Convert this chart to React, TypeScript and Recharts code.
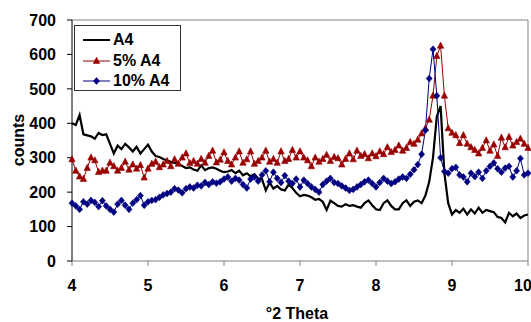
import { LineChart, Line, XAxis, YAxis, ReferenceLine } from 'recharts';

// °2 Theta sampled every 0.05
const theta = Array.from({ length: 121 }, (_, i) => +(4 + i * 0.05).toFixed(2));

const a4 = [
  400, 395, 424, 368, 365, 362, 355, 372, 366, 368,
  340, 312, 335, 325, 340, 330, 318, 332, 312, 325,
  338, 318, 305, 302, 296, 292, 288, 285, 282, 276,
  270, 272, 266, 262, 278, 264, 270, 272, 268, 262,
  258, 260, 264, 255, 262, 249, 255, 246, 252, 240,
  238, 205, 228, 210, 218, 208, 205, 222, 212, 198,
  188, 192, 190, 185, 178, 180, 172, 148, 175, 168,
  160, 158, 165, 160, 162, 158, 155, 168, 176, 162,
  150, 148, 168, 176, 160, 150, 150, 168, 176, 160,
  172, 176, 168, 190, 230, 300, 420, 450, 255, 168,
  135, 148, 140, 152, 135, 150, 138, 155, 140, 148,
  145, 142, 128, 125, 112, 140, 130, 138, 125, 132,
  135,
];

const pct5 = [
  295, 262, 245, 238, 270, 300, 292, 258, 262, 262,
  285, 275, 262, 270, 288, 265, 280, 268, 278, 242,
  268, 282, 288, 272, 280, 290, 275, 295, 282, 300,
  312, 284, 290, 282, 296, 285, 305, 320, 286, 294,
  315, 290, 280, 300, 318, 285, 295, 318, 282, 290,
  300, 320, 288, 296, 285, 318, 290, 296, 322, 300,
  318, 300, 292, 275, 300, 288, 296, 308, 290, 302,
  298, 280, 296, 312, 295, 320, 305, 310, 298, 312,
  304, 318, 310, 330, 316, 322, 335, 320, 328, 345,
  340, 352, 370, 385, 410, 480, 595, 625, 480, 385,
  372, 365, 342, 365, 340, 330, 322, 312, 328, 350,
  320, 338, 305, 358, 330, 360, 335, 345, 355, 340,
  328,
];

const pct10 = [
  168, 160, 150, 172, 165, 176, 170, 158, 175, 160,
  150, 142, 165, 176, 162, 150, 168, 178, 190, 162,
  172, 176, 178, 185, 192, 196, 200, 210, 206, 198,
  210, 215, 212, 220, 218, 228, 222, 230, 226, 230,
  238, 244, 232, 240, 235, 222, 212, 238, 244, 232,
  250, 262, 230, 258, 240, 228, 248, 232, 225, 238,
  215, 235, 225, 215, 208, 200, 222, 232, 240, 228,
  225, 218, 212, 205, 208, 215, 222, 230, 235, 225,
  215, 228, 240, 232, 225, 230, 238, 244, 240, 252,
  265, 280, 310, 380, 530, 615, 480, 300, 260, 255,
  268, 272, 250, 244, 230, 255, 245, 258, 240, 262,
  275, 285, 268, 258, 270, 275, 244, 262, 298, 250,
  255,
];

const xTicks = [4, 5, 6, 7, 8, 9, 10];
const yTicks = [0, 100, 200, 300, 400, 500, 600, 700];

const seriesNames = ['A4', '5% A4', '10% A4'];
const colors = ['#000000', '#990000', '#000080'];

const data = theta.map((t, i) => ({ t, a4: a4[i], p5: pct5[i], p10: pct10[i] }));

const font = '"Liberation Sans", Arial, sans-serif';

const Triangle = (props: any) => {
  const { cx, cy, fill } = props;
  if (cx == null || cy == null) return null;
  return <path d={`M${cx},${cy - 3.8} L${cx + 3.2},${cy + 2.4} L${cx - 3.2},${cy + 2.4} Z`} fill={fill} stroke={fill} strokeWidth={0.6} />;
};

const Diamond = (props: any) => {
  const { cx, cy, fill } = props;
  if (cx == null || cy == null) return null;
  return <path d={`M${cx},${cy - 3.4} L${cx + 3},${cy} L${cx},${cy + 3.4} L${cx - 3},${cy} Z`} fill={fill} stroke={fill} strokeWidth={0.6} />;
};

const LegendBox = () => (
  <div style={{ position: 'absolute', left: 74, top: 25, width: 105, height: 64, border: '1px solid #333', background: '#fff', fontFamily: font, fontWeight: 'bold', fontSize: 16 }}>
    {seriesNames.map((name, i) => (
      <div key={name} style={{ position: 'absolute', left: 8, top: 4 + i * 20.5, height: 20, display: 'flex', alignItems: 'center' }}>
        <svg width={28} height={20}>
          <line x1={0} y1={10} x2={27} y2={10} stroke={colors[i]} strokeWidth={i === 0 ? 2 : 1} />
          {i === 1 && <Triangle cx={13.5} cy={10} fill={colors[i]} />}
          {i === 2 && <Diamond cx={13.5} cy={10} fill={colors[i]} />}
        </svg>
        <span style={{ marginLeft: 2 }}>{name}</span>
      </div>
    ))}
  </div>
);

export default function App() {
  return (
    <div style={{ position: 'relative', width: 531, height: 322, background: '#fff', overflow: 'hidden' }}>
      <style>{`body{margin:0}`}</style>
      <LineChart width={531} height={322} data={data} margin={{ top: 20, right: 3, bottom: 0, left: 0 }}>
        <XAxis
          dataKey="t"
          type="number"
          domain={[4, 10]}
          ticks={xTicks}
          height={61}
          stroke="#808080"
          tickSize={5}
          tickMargin={14}
          tick={{ fill: '#000', fontFamily: font, fontWeight: 'bold', fontSize: 16 }}
        />
        <YAxis
          type="number"
          domain={[0, 700]}
          ticks={yTicks}
          width={72}
          stroke="#000"
          tickSize={5}
          tickMargin={11}
          tick={{ fill: '#000', fontFamily: font, fontWeight: 'bold', fontSize: 16 }}
        />
        <ReferenceLine y={700} stroke="#808080" />
        <ReferenceLine x={10} stroke="#808080" />
        <Line dataKey="a4" stroke={colors[0]} strokeWidth={2.2} dot={false} isAnimationActive={false} />
        <Line dataKey="p5" stroke={colors[1]} strokeWidth={1} dot={<Triangle fill={colors[1]} />} isAnimationActive={false} />
        <Line dataKey="p10" stroke={colors[2]} strokeWidth={1} dot={<Diamond fill={colors[2]} />} isAnimationActive={false} />
      </LineChart>
      <LegendBox />
      <div style={{ position: 'absolute', left: 19, top: 140, transform: 'translate(-50%, -50%) rotate(-90deg)', fontFamily: font, fontWeight: 'bold', fontSize: 16, whiteSpace: 'nowrap' }}>counts</div>
      <div style={{ position: 'absolute', left: 297, top: 314, transform: 'translate(-50%, -50%)', fontFamily: font, fontWeight: 'bold', fontSize: 16, whiteSpace: 'nowrap' }}>°2 Theta</div>
    </div>
  );
}
